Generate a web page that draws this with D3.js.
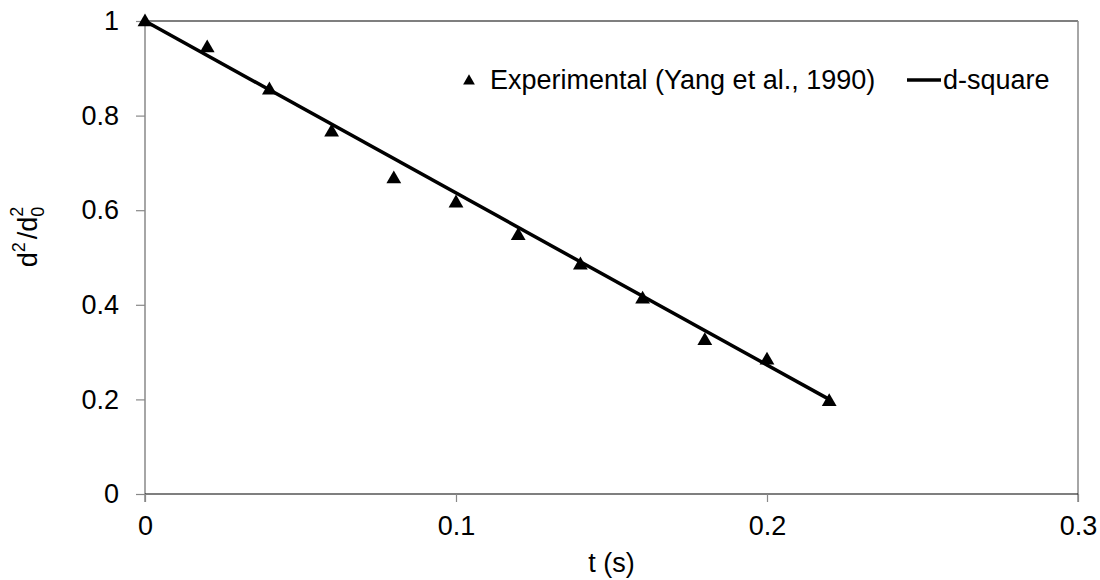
<!DOCTYPE html>
<html>
<head>
<meta charset="utf-8">
<script src="https://cdn.jsdelivr.net/npm/d3@7"></script>
<style>
  body { margin: 0; background: #fff; }
  text { font-family: "Liberation Sans", Arial, sans-serif; fill: #000; }
</style>
</head>
<body>
<svg id="chart" width="1100" height="580"></svg>
<script>
// Experimental points (Yang et al., 1990)
const expT = [0, 0.02, 0.04, 0.06, 0.08, 0.1, 0.12, 0.14, 0.16, 0.18, 0.2, 0.22];
const expD = [1.0, 0.945, 0.856, 0.767, 0.668, 0.617, 0.548, 0.486, 0.414, 0.326, 0.285, 0.197];

// d-square law line
const lineT = [0, 0.22];
const lineD = [1.0, 0.2];

const xTicks = [0, 0.1, 0.2, 0.3];
const yTicks = [0, 0.2, 0.4, 0.6, 0.8, 1];

const margin = { left: 145, right: 22, top: 21, bottom: 86 };
const W = 1100, H = 580;

const svg = d3.select('#chart');

const x = d3.scaleLinear().domain([0, 0.3]).range([margin.left, W - margin.right]);
const y = d3.scaleLinear().domain([0, 1]).range([H - margin.bottom, margin.top]);

const fontSize = 27;
const gray = '#888';

// frame: top and bottom black, sides gray
svg.append('line')
    .attr('x1', x(0)).attr('x2', x(0.3))
    .attr('y1', y(1)).attr('y2', y(1))
    .attr('stroke', '#000').attr('stroke-width', 1.2);
svg.append('line')
    .attr('x1', x(0.3)).attr('x2', x(0.3))
    .attr('y1', y(1)).attr('y2', y(0) + 8)
    .attr('stroke', gray).attr('stroke-width', 1.5);

// y axis
const yAxis = svg.append('g')
    .attr('transform', `translate(${x(0)},0)`)
    .call(d3.axisLeft(y).tickValues(yTicks).tickSize(9).tickPadding(17)
        .tickFormat(d3.format('')));
yAxis.select('.domain').attr('stroke', gray).attr('stroke-width', 1.5)
    .attr('d', `M0,${y(1)}V${y(0) + 8}`);
yAxis.selectAll('.tick line').attr('stroke', gray).attr('stroke-width', 1.2);
yAxis.selectAll('.tick text')
    .style('font-size', fontSize + 'px').attr('fill', '#000')
    .attr('font-family', '"Liberation Sans", Arial, sans-serif');

// x axis
const xAxis = svg.append('g')
    .attr('transform', `translate(0,${y(0)})`)
    .call(d3.axisBottom(x).tickValues(xTicks).tickSize(8).tickPadding(14)
        .tickFormat(d3.format('')));
xAxis.select('.domain').attr('stroke', '#000').attr('stroke-width', 1.2)
    .attr('d', `M${x(0)},0H${x(0.3)}`);
xAxis.selectAll('.tick line').attr('stroke', gray).attr('stroke-width', 1.2);
xAxis.selectAll('.tick text')
    .style('font-size', fontSize + 'px').attr('fill', '#000')
    .attr('font-family', '"Liberation Sans", Arial, sans-serif');

// d-square line
svg.append('path')
    .datum(lineT.map((t, i) => [t, lineD[i]]))
    .attr('fill', 'none')
    .attr('stroke', '#000')
    .attr('stroke-width', 3.5)
    .attr('d', d3.line().x(d => x(d[0])).y(d => y(d[1])));

// triangles
const tri = d3.symbol().type(d3.symbolTriangle).size(95);
svg.selectAll('.pt')
    .data(expT.map((t, i) => [t, expD[i]]))
    .enter()
    .append('path')
    .attr('class', 'pt')
    .attr('d', tri)
    .attr('transform', d => `translate(${x(d[0])},${y(d[1]) + 1})`)
    .attr('fill', '#000');

// legend
const leg = svg.append('g');
leg.append('path')
    .attr('d', d3.symbol().type(d3.symbolTriangle).size(60))
    .attr('transform', 'translate(469,81)')
    .attr('fill', '#000');
leg.append('text')
    .attr('x', 490).attr('y', 89)
    .style('font-size', fontSize + 'px')
    .text('Experimental (Yang et al., 1990)');
leg.append('line')
    .attr('x1', 907).attr('x2', 941)
    .attr('y1', 80).attr('y2', 80)
    .attr('stroke', '#000').attr('stroke-width', 3.5);
leg.append('text')
    .attr('x', 943).attr('y', 89)
    .style('font-size', fontSize + 'px')
    .text('d-square');

// axis titles
svg.append('text')
    .attr('x', (x(0) + x(0.3)) / 2).attr('y', 572)
    .attr('text-anchor', 'middle')
    .style('font-size', fontSize + 'px')
    .text('t (s)');

const yl = svg.append('text')
    .attr('transform', 'translate(37,237) rotate(-90)')
    .attr('text-anchor', 'middle')
    .style('font-size', fontSize + 'px');
yl.append('tspan').text('d');
yl.append('tspan').attr('dy', -12).style('font-size', '18px').text('2');
yl.append('tspan').attr('dx', 3).attr('dy', 12).text('/d');
yl.append('tspan').attr('dy', 7).style('font-size', '18px').text('0');
yl.append('tspan').attr('dx', -10).attr('dy', -21).style('font-size', '18px').text('2');
</script>
</body>
</html>
